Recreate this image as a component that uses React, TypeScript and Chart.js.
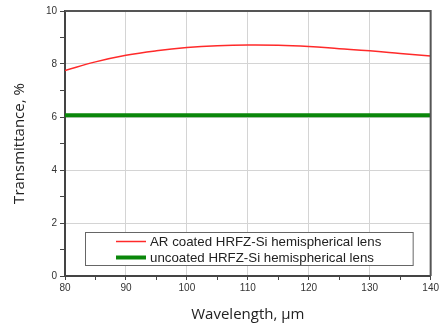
import { useEffect, useRef } from "react";
import { Chart, registerables } from "chart.js";

Chart.register(...registerables);

const wavelengths = [80, 85, 90, 95, 100, 105, 110, 115, 120, 125, 130, 135, 140];
const arCoated = [7.75, 8.08, 8.33, 8.5, 8.62, 8.69, 8.72, 8.71, 8.66, 8.58, 8.5, 8.4, 8.3];
const uncoated = [6.07, 6.07, 6.07, 6.07, 6.07, 6.07, 6.07, 6.07, 6.07, 6.07, 6.07, 6.07, 6.07];
const seriesLabels = ["AR coated HRFZ-Si hemispherical lens", "uncoated HRFZ-Si hemispherical lens"];
const xTitle = "Wavelength, µm";
const yTitle = "Transmittance, %";

const tickFont = { family: "'Liberation Sans', Arial, sans-serif", size: 10 };
const titleFont = { family: "'Open Sans', 'Noto Sans', sans-serif", size: 15 };

const frameAndLegend = {
  id: "frameAndLegend",
  afterDatasetsDraw(chart: any) {
    const { ctx, chartArea } = chart;
    const { left, right, top, bottom } = chartArea;
    ctx.save();
    ctx.strokeStyle = "#555";
    ctx.lineWidth = 2;
    ctx.beginPath();
    ctx.moveTo(left, top);
    ctx.lineTo(right, top);
    ctx.lineTo(right, bottom);
    ctx.stroke();

    const bx = left + 20;
    const bw = right - 18 - bx;
    const bh = 33;
    const by = bottom - 11 - bh;
    ctx.fillStyle = "#fff";
    ctx.fillRect(bx, by, bw, bh);
    ctx.strokeStyle = "#666";
    ctx.lineWidth = 1;
    ctx.strokeRect(bx + 0.5, by + 0.5, bw, bh);

    ctx.font = "13.3px 'Liberation Sans', Arial, sans-serif";
    ctx.textBaseline = "middle";
    ctx.textAlign = "left";
    chart.data.datasets.forEach((ds: any, i: number) => {
      const y = by + 9.5 + i * 16;
      ctx.strokeStyle = ds.borderColor;
      ctx.lineWidth = ds.borderWidth;
      ctx.beginPath();
      ctx.moveTo(bx + 31, y);
      ctx.lineTo(bx + 61, y);
      ctx.stroke();
      ctx.fillStyle = "#222";
      ctx.fillText(ds.label, bx + 65, y + 0.5);
    });
    ctx.restore();
  },
};

export default function App() {
  const ref = useRef<HTMLCanvasElement>(null);
  useEffect(() => {
    if (!ref.current) return;
    const chart = new Chart(ref.current, {
      type: "line",
      data: {
        datasets: [
          {
            label: seriesLabels[0],
            data: wavelengths.map((x, i) => ({ x, y: arCoated[i] })),
            borderColor: "#ff2a2a",
            borderWidth: 1.5,
            pointRadius: 0,
            tension: 0.4,
          },
          {
            label: seriesLabels[1],
            data: wavelengths.map((x, i) => ({ x, y: uncoated[i] })),
            borderColor: "#0a870a",
            borderWidth: 4,
            pointRadius: 0,
          },
        ],
      },
      options: {
        animation: false,
        responsive: false,
        layout: { padding: { top: 11, right: 10, left: 0, bottom: 0 } },
        plugins: { legend: { display: false }, tooltip: { enabled: false } },
        scales: {
          x: {
            type: "linear",
            min: 80,
            max: 140,
            afterFit: (s: any) => {
              s.height = 48;
            },
            ticks: {
              stepSize: 5,
              autoSkip: false,
              maxRotation: 0,
              padding: 2,
              color: "#333",
              font: tickFont,
              callback: (v: any) => (Number(v) % 10 === 0 ? String(v) : ""),
            },
            grid: {
              color: (c: any) => (c.tick && Number(c.tick.value) % 10 === 0 ? "#d4d4d4" : "rgba(0,0,0,0)"),
              tickColor: "#444",
              tickLength: 4,
              lineWidth: 1,
            },
            border: { display: true, color: "#444", width: 2 },
            title: { display: true, text: xTitle, color: "#222", font: titleFont, padding: { top: 0, bottom: 0 } },
          },
          y: {
            min: 0,
            max: 10,
            afterFit: (s: any) => {
              s.width = 65;
            },
            ticks: {
              stepSize: 1,
              autoSkip: false,
              padding: 3,
              color: "#333",
              font: tickFont,
              callback: (v: any) => (Number(v) % 2 === 0 ? String(v) : ""),
            },
            grid: {
              color: (c: any) => (c.tick && Number(c.tick.value) % 2 === 0 ? "#d4d4d4" : "rgba(0,0,0,0)"),
              tickColor: "#444",
              tickLength: 5,
              lineWidth: 1,
            },
            border: { display: true, color: "#444", width: 2 },
            title: { display: true, text: yTitle, color: "#222", font: titleFont, padding: { top: 11, bottom: 0 } },
          },
        },
      },
      plugins: [frameAndLegend],
    });
    return () => chart.destroy();
  }, []);
  return (
    <div style={{ position: "fixed", left: 0, top: 0, width: 441, height: 324, background: "#fff" }}>
      <canvas ref={ref} width={441} height={324} style={{ display: "block" }} />
    </div>
  );
}
